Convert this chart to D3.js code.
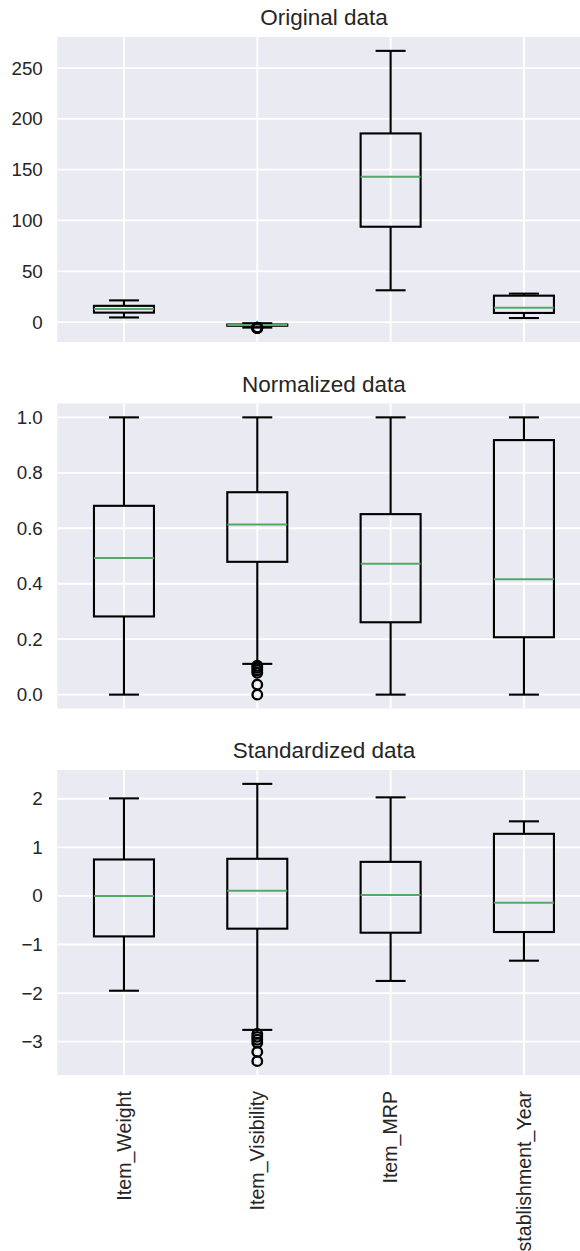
<!DOCTYPE html>
<html>
<head>
<meta charset="utf-8">
<script src="https://cdn.jsdelivr.net/npm/d3@7"></script>
<style>
    body { margin: 0; background: #ffffff; }
    text { font-family: Arial, "Liberation Sans", sans-serif; fill: #262626; }
</style>
</head>
<body>
<div id="chart"></div>
<script>
const categories = ["Item_Weight", "Item_Visibility", "Item_MRP", "Outlet_Establishment_Year"];
const panelTitles = ["Original data", "Normalized data", "Standardized data"];

// [low whisker, Q1, median, Q3, high whisker] per category
const originalStats = [
    [4.555, 9.31, 12.86, 16.0, 21.35],
    [-5.41, -3.63, -2.98, -2.42, -1.115],
    [31.29, 93.83, 143.01, 185.64, 266.89],
    [4, 9, 14, 26, 28]
];
const originalOutliers = [[], [-5.45, -5.48, -5.52, -5.55, -5.78, -5.95], [], []];
const originalTicks = [0, 50, 100, 150, 200, 250];

const normalizedStats = [
    [0, 0.282, 0.493, 0.681, 1],
    [0.111, 0.479, 0.614, 0.730, 1],
    [0, 0.261, 0.472, 0.651, 1],
    [0, 0.207, 0.416, 0.918, 1]
];
const normalizedOutliers = [[], [0.104, 0.097, 0.088, 0.079, 0.036, 0.0], [], []];
const normalizedTicks = [0, 0.2, 0.4, 0.6, 0.8, 1.0];

const standardizedStats = [
    [-1.951, -0.833, 0.0, 0.75, 2.007],
    [-2.757, -0.674, 0.104, 0.764, 2.306],
    [-1.75, -0.757, 0.021, 0.701, 2.028],
    [-1.333, -0.743, -0.139, 1.278, 1.535]
];
const standardizedOutliers = [[], [-2.84, -2.90, -2.96, -3.02, -3.21, -3.40], [], []];
const standardizedTicks = [-3, -2, -1, 0, 1, 2];

const width = 580, height = 1251;
const left = 57.3, panelHeight = 305, panelTop = 37, panelStep = 366.5;

const svg = d3.select("#chart")
    .append("svg")
    .attr("width", width)
    .attr("height", height);

// boxes sit at 1..4, axis runs 0.5..4.5 (right end falls past the picture)
const x = d3.scaleLinear()
    .domain([0.5, 4.5])
    .range([left, 590.6]);

function drawPanel(index, stats, outliers, ticks, tickFormat) {
    const top = panelTop + index * panelStep;
    const bottom = top + panelHeight;

    const allValues = stats.flat().concat(outliers.flat());
    const [lo, hi] = d3.extent(allValues);
    const pad = (hi - lo) * 0.05;
    const y = d3.scaleLinear()
        .domain([lo - pad, hi + pad])
        .range([bottom, top]);

    const g = svg.append("g");

    g.append("rect")
        .attr("x", left)
        .attr("y", top)
        .attr("width", x(4.5) - left)
        .attr("height", panelHeight)
        .attr("fill", "#eaeaf2");

    // grid
    g.selectAll(".hgrid")
        .data(ticks)
        .join("line")
        .attr("x1", left)
        .attr("x2", x(4.5))
        .attr("y1", d => y(d))
        .attr("y2", d => y(d))
        .attr("stroke", "#ffffff")
        .attr("stroke-width", 1.8);

    g.selectAll(".vgrid")
        .data(categories)
        .join("line")
        .attr("x1", (d, i) => x(i + 1))
        .attr("x2", (d, i) => x(i + 1))
        .attr("y1", top)
        .attr("y2", bottom)
        .attr("stroke", "#ffffff")
        .attr("stroke-width", 1.8);

    // y tick labels
    g.selectAll(".ytick")
        .data(ticks)
        .join("text")
        .attr("x", left - 14.5)
        .attr("y", d => y(d))
        .attr("dy", "0.35em")
        .attr("text-anchor", "end")
        .style("font-size", "18.8px")
        .text(tickFormat);

    g.append("text")
        .attr("x", (left + x(4.5)) / 2)
        .attr("y", top - 12)
        .attr("text-anchor", "middle")
        .style("font-size", "22.5px")
        .text(panelTitles[index]);

    const boxW = x(1.225) - x(1);
    const capW = x(1.1125) - x(1);

    const boxes = g.selectAll(".box")
        .data(stats)
        .join("g");

    // whiskers
    boxes.append("line")
        .attr("x1", (d, i) => x(i + 1)).attr("x2", (d, i) => x(i + 1))
        .attr("y1", d => y(d[0])).attr("y2", d => y(d[1]))
        .attr("stroke", "#000").attr("stroke-width", 2.1);
    boxes.append("line")
        .attr("x1", (d, i) => x(i + 1)).attr("x2", (d, i) => x(i + 1))
        .attr("y1", d => y(d[3])).attr("y2", d => y(d[4]))
        .attr("stroke", "#000").attr("stroke-width", 2.1);
    // caps
    boxes.append("line")
        .attr("x1", (d, i) => x(i + 1) - capW).attr("x2", (d, i) => x(i + 1) + capW)
        .attr("y1", d => y(d[0])).attr("y2", d => y(d[0]))
        .attr("stroke", "#000").attr("stroke-width", 2.1);
    boxes.append("line")
        .attr("x1", (d, i) => x(i + 1) - capW).attr("x2", (d, i) => x(i + 1) + capW)
        .attr("y1", d => y(d[4])).attr("y2", d => y(d[4]))
        .attr("stroke", "#000").attr("stroke-width", 2.1);
    // box
    boxes.append("rect")
        .attr("x", (d, i) => x(i + 1) - boxW)
        .attr("y", d => y(d[3]))
        .attr("width", boxW * 2)
        .attr("height", d => y(d[1]) - y(d[3]))
        .attr("fill", "none")
        .attr("stroke", "#000")
        .attr("stroke-width", 2.1);
    // median
    boxes.append("line")
        .attr("x1", (d, i) => x(i + 1) - boxW).attr("x2", (d, i) => x(i + 1) + boxW)
        .attr("y1", d => y(d[2])).attr("y2", d => y(d[2]))
        .attr("stroke", "#55a868").attr("stroke-width", 2);

    // fliers
    outliers.forEach((list, i) => {
        g.selectAll(null)
            .data(list)
            .join("circle")
            .attr("cx", x(i + 1))
            .attr("cy", d => y(d))
            .attr("r", 4.8)
            .attr("fill", "none")
            .attr("stroke", "#000")
            .attr("stroke-width", 2.3);
    });

    return bottom;
}

drawPanel(0, originalStats, originalOutliers, originalTicks, d3.format("d"));
drawPanel(1, normalizedStats, normalizedOutliers, normalizedTicks, d3.format(".1f"));
const lastBottom = drawPanel(2, standardizedStats, standardizedOutliers, standardizedTicks, d3.format("d"));

// rotated category labels under the last panel
svg.selectAll(".xlabel")
    .data(categories)
    .join("text")
    .attr("transform", (d, i) => `translate(${x(i + 1)},${lastBottom + 16}) rotate(-90)`)
    .attr("dy", "0.35em")
    .attr("text-anchor", "end")
    .style("font-size", "19.6px")
    .text(d => d);
</script>
</body>
</html>
